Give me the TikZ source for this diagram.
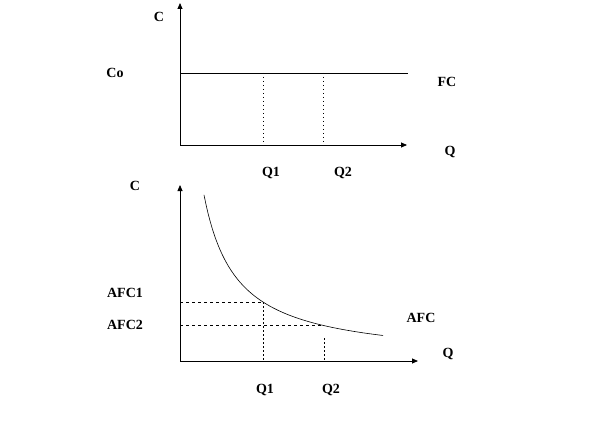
\documentclass[tikz,border=0pt]{standalone}
\usepackage{fontspec}
\setmainfont{Liberation Serif}
\usetikzlibrary{arrows.meta}
\begin{document}
\begin{tikzpicture}[x=1pt,y=-1pt,
  lab/.style={anchor=base,inner sep=0pt,font=\bfseries\fontsize{14}{14}\selectfont},
  axis/.style={line width=0.8pt,-{Triangle[length=6pt,width=5pt]}},
  level/.style={line width=0.7pt},
  hdash/.style={line width=0.7pt,dash pattern=on 3pt off 3pt},
  vdash/.style={line width=0.7pt,dash pattern=on 1.5pt off 2.5pt},
  curve/.style={line width=0.6pt}]
\useasboundingbox (0,0) rectangle (612,422);
\fill[white] (0,0) rectangle (612,422);
% ---------- top graph ----------
\coordinate (o1) at (180,145);
\coordinate (y1) at (180,3);
\coordinate (x1) at (407,145);
\coordinate (f0) at (180,73);
\coordinate (f1) at (408,73);
\coordinate (fa) at (263,73);
\coordinate (fb) at (323,73);
\coordinate (qa) at (263,145);
\coordinate (qb) at (323,145);
\draw[axis] (o1) -- (y1);
\draw[axis] (o1) -- (x1);
\draw[level] (f0) -- (f1);
\draw[vdash] (fa) -- (qa);
\draw[vdash] (fb) -- (qb);
\node[lab] (tC) at (159,21.6) {C};
\node[lab] (tCo) at (115,77.1) {Co};
\node[lab] (tFC) at (447,86.6) {FC};
\node[lab] (tQ) at (450,155.6) {Q};
\node[lab] (tQ1) at (271,176.6) {Q1};
\node[lab] (tQ2) at (343,176.6) {Q2};
% ---------- bottom graph ----------
\coordinate (o2) at (180,361);
\coordinate (y2) at (180,185);
\coordinate (x2) at (418,361);
\coordinate (a1) at (180,302);
\coordinate (p1) at (263,302);
\coordinate (a2) at (180,325);
\coordinate (p2) at (324,325);
\coordinate (p2b) at (324,338);
\coordinate (b1) at (263,361);
\coordinate (b2) at (324,361);
\draw[axis] (o2) -- (y2);
\draw[axis] (o2) -- (x2);
\draw[curve] plot[domain=204:383,samples=80,smooth] (\x,{361-5399/(\x-171.5)});
\draw[hdash] (a1) -- (p1);
\draw[hdash] (a2) -- (p2);
\draw[vdash] (p1) -- (b1);
\draw[vdash] (p2b) -- (b2);
\node[lab] (bC) at (135,190.6) {C};
\node[lab] (bA1) at (125,297.6) {AFC1};
\node[lab] (bA2) at (125,329.6) {AFC2};
\node[lab] (bAFC) at (421,322.6) {AFC};
\node[lab] (bQ) at (448,357.6) {Q};
\node[lab] (bQ1) at (265,393.6) {Q1};
\node[lab] (bQ2) at (331,393.6) {Q2};
\end{tikzpicture}
\end{document}
